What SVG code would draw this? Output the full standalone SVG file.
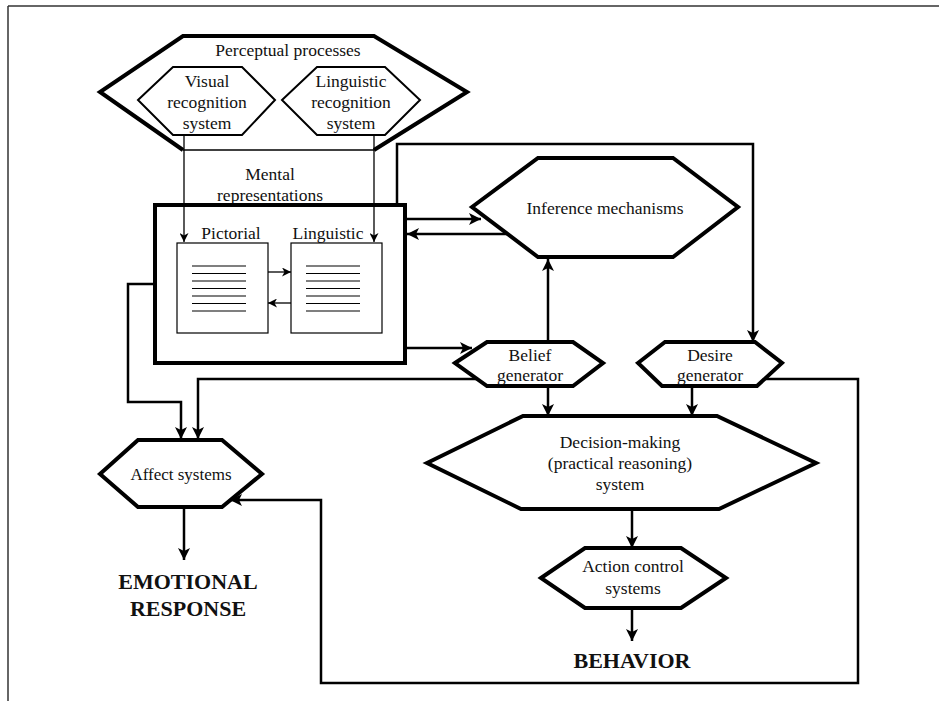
<svg xmlns="http://www.w3.org/2000/svg" width="939" height="701" viewBox="0 0 939 701">
<style>
text{font-family:'Liberation Serif','DejaVu Serif','Times New Roman',serif;fill:#111;text-anchor:middle}
.t16{font-size:17.5px}
.t15{font-size:17px}
.big{font-size:22px;font-weight:bold}
.hex{fill:#fff;stroke:#000;stroke-width:4;stroke-linejoin:miter}
.hexs{fill:#fff;stroke:#000;stroke-width:2}
.con{fill:none;stroke:#000;stroke-width:2.5}
.thin{fill:none;stroke:#000;stroke-width:1.3}
.doc{fill:#fff;stroke:#000;stroke-width:1.2}
.ln{stroke:#000;stroke-width:1.2}
</style>
<defs>
<marker id="ah" markerUnits="userSpaceOnUse" markerWidth="13" markerHeight="12" refX="12" refY="6" orient="auto">
<path d="M0,0 L12,6 L0,12 L3,6 z" fill="#000"/>
</marker>
<marker id="as" markerUnits="userSpaceOnUse" markerWidth="10" markerHeight="9" refX="9" refY="4.5" orient="auto">
<path d="M0,0 L9,4.5 L0,9 L2.5,4.5 z" fill="#000"/>
</marker>
</defs>
<rect width="939" height="701" fill="#fff"/>
<g id="frame">
<line x1="8" y1="6" x2="939" y2="6" stroke="#333" stroke-width="1.5"/>
<line x1="8" y1="6" x2="8" y2="701" stroke="#333" stroke-width="1.5"/>
</g>
<g font-family="Liberation Serif, DejaVu Serif, serif">
<g id="perceptual">
<polygon points="100,92 183,36 374,36 467,92 374,150 183,150" fill="#fff" stroke="none"/>
<polyline points="183,150 100,92 183,36 374,36 467,92 374,150" fill="none" stroke="#000" stroke-width="4"/>
<line x1="183" y1="150" x2="374" y2="150" stroke="#000" stroke-width="1.5"/>
<text class="t16" x="288" y="56">Perceptual processes</text>
</g>
<g id="visual">
<polygon class="hexs" points="138,100 173,67 242,67 275,100 242,135 173,135"/>
<text class="t16" x="207" y="87">Visual</text>
<text class="t16" x="207" y="108">recognition</text>
<text class="t16" x="207" y="129">system</text>
</g>
<g id="linguistic-rec">
<polygon class="hexs" points="282,100 317,67 385,67 420,100 385,135 317,135"/>
<text class="t16" x="351" y="87">Linguistic</text>
<text class="t16" x="351" y="108">recognition</text>
<text class="t16" x="351" y="129">system</text>
</g>

<g id="mental">
<text class="t16" x="270" y="180">Mental</text>
<text class="t16" x="270" y="201">representations</text>
<rect x="155" y="205" width="250" height="158" fill="#fff" stroke="#000" stroke-width="4"/>
<text class="t16" x="231" y="239">Pictorial</text>
<text class="t16" x="328" y="239">Linguistic</text>
</g>
<g id="pictorial">
<rect class="doc" x="177" y="243" width="91" height="90"/>
<g class="ln">
<line x1="192" y1="266" x2="246" y2="266"/><line x1="192" y1="273.5" x2="246" y2="273.5"/>
<line x1="192" y1="281" x2="246" y2="281"/><line x1="192" y1="288.5" x2="246" y2="288.5"/>
<line x1="192" y1="296" x2="246" y2="296"/><line x1="192" y1="303.5" x2="246" y2="303.5"/>
<line x1="192" y1="311" x2="246" y2="311"/>
</g>
</g>
<g id="linguistic">
<rect class="doc" x="291" y="243" width="91" height="90"/>
<g class="ln">
<line x1="306" y1="266" x2="360" y2="266"/><line x1="306" y1="273.5" x2="360" y2="273.5"/>
<line x1="306" y1="281" x2="360" y2="281"/><line x1="306" y1="288.5" x2="360" y2="288.5"/>
<line x1="306" y1="296" x2="360" y2="296"/><line x1="306" y1="303.5" x2="360" y2="303.5"/>
<line x1="306" y1="311" x2="360" y2="311"/>
</g>
</g>

<g id="inference">
<polygon class="hex" points="472,207 538,158 673,158 738,207 673,257 538,257"/>
<text class="t16" x="605" y="214">Inference mechanisms</text>
</g>
<g id="belief">
<polygon class="hex" points="455,363 487,342 573,342 603,363 573,386 487,386"/>
<text class="t16" x="530" y="361">Belief</text>
<text class="t16" x="530" y="381">generator</text>
</g>
<g id="desire">
<polygon class="hex" points="638,363 665,342 755,342 782,363 757,386 662,386"/>
<text class="t16" x="710" y="361">Desire</text>
<text class="t16" x="710" y="381">generator</text>
</g>
<g id="affect">
<polygon class="hex" points="100,474 138,440 222,440 262,474 222,507 138,507"/>
<text class="t15" x="181" y="480">Affect systems</text>
</g>
<g id="decision">
<polygon class="hex" points="427,463 523,416 717,416 816,463 719,509 521,509"/>
<text class="t16" x="620" y="448">Decision-making</text>
<text class="t16" x="620" y="469">(practical reasoning)</text>
<text class="t16" x="620" y="490">system</text>
</g>
<g id="action">
<polygon class="hex" points="541,578 585,548 681,548 726,578 681,608 585,608"/>
<text class="t16" x="633" y="572">Action control</text>
<text class="t16" x="633" y="594">systems</text>
</g>
<g id="emotional">
<text class="big" x="188" y="589">EMOTIONAL</text>
<text class="big" x="188" y="616">RESPONSE</text>
</g>
<g id="behavior">
<text class="big" x="632" y="668">BEHAVIOR</text>
</g>
</g>
<g id="connectors">
<path class="thin" d="M184,135 V242" marker-end="url(#as)"/>
<path class="thin" d="M374,135 V242" marker-end="url(#as)"/>
<path class="thin" d="M268,272 H291" marker-end="url(#as)"/>
<path class="thin" d="M291,303 H268" marker-end="url(#as)"/>
<path class="con" d="M407,219 H481" marker-end="url(#ah)"/>
<path class="con" d="M507,234 H407" marker-end="url(#ah)"/>
<path class="con" d="M407,348 H472" marker-end="url(#ah)"/>
<path class="con" d="M548,342 V259" marker-end="url(#ah)"/>
<path class="con" d="M397,203 V144 H753 V342" marker-end="url(#ah)"/>
<path class="con" d="M153,284 H128 V402 H181 V439" marker-end="url(#ah)"/>
<path class="con" d="M478,379 H198 V439" marker-end="url(#ah)"/>
<path class="con" d="M548,386 V416" marker-end="url(#ah)"/>
<path class="con" d="M692,386 V416" marker-end="url(#ah)"/>
<path class="con" d="M632,509 V548" marker-end="url(#ah)"/>
<path class="con" d="M632,608 V641" marker-end="url(#ah)"/>
<path class="con" d="M184,507 V560" marker-end="url(#ah)"/>
<path class="con" d="M765,379 H858 V683 H321 V500 H230" marker-end="url(#ah)"/>
</g>
</svg>
